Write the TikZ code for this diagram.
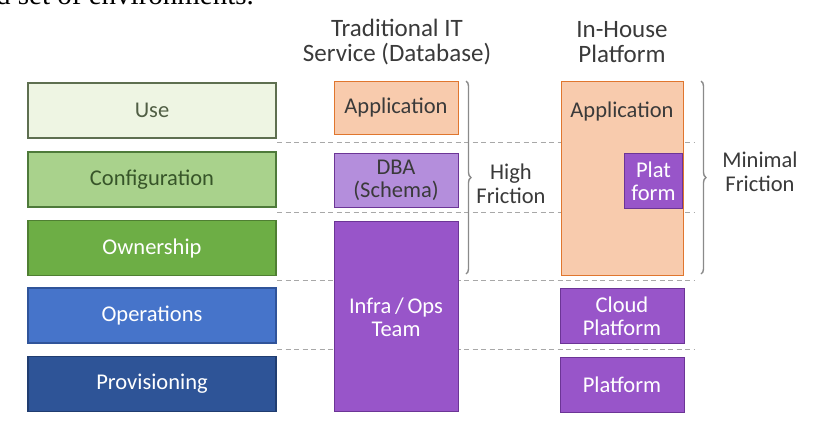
\documentclass[tikz,border=0pt]{standalone}
\usepackage{fontspec}
\setmainfont{Carlito}
\newfontfamily\capfont{Liberation Serif}
\usetikzlibrary{positioning,decorations.pathreplacing}

\definecolor{useF}{HTML}{EEF5E3}
\definecolor{useD}{HTML}{5E6F50}
\definecolor{cfgF}{HTML}{A9D28C}
\definecolor{cfgD}{HTML}{4E7A3A}
\definecolor{ownF}{HTML}{6DAE45}
\definecolor{ownD}{HTML}{4F7F32}
\definecolor{opsF}{HTML}{4674CA}
\definecolor{opsD}{HTML}{30549A}
\definecolor{prvF}{HTML}{2E5497}
\definecolor{prvD}{HTML}{203D70}
\definecolor{appF}{HTML}{F8CBAD}
\definecolor{appD}{HTML}{E0762E}
\definecolor{dbaF}{HTML}{B48EDC}
\definecolor{purF}{HTML}{9855C9}
\definecolor{purD}{HTML}{6C3596}
\definecolor{sepC}{HTML}{A8A8A8}
\definecolor{brC}{HTML}{8A8A8A}
\definecolor{txtC}{HTML}{3A3A3A}

\tikzset{
  layer/.style={draw=#1D, fill=#1F, line width=1.2pt, minimum width=248pt,
    minimum height=55pt, font=\fontsize{22.5}{23}\selectfont},
  tool/.style={draw=purD, fill=purF, line width=1pt, text=white, align=center,
    font=\fontsize{22.5}{23}\selectfont, inner sep=0pt},
  sep/.style={sepC, line width=0.9pt, dash pattern=on 5pt off 3.5pt},
  bracket/.style={brC, line width=1.4pt, decorate,
    decoration={brace, amplitude=5pt, aspect=0.5}},
  label/.style={align=center, font=\fontsize{22.5}{23.5}\selectfont, text=txtC},
  header/.style={align=center, font=\fontsize{25}{24.5}\selectfont, text=txtC}
}

\begin{document}
\begin{tikzpicture}[x=1pt,y=-1pt]
\clip (0,0) rectangle (815,429);
\fill[white] (0,0) rectangle (815,429);

\node[anchor=base west, font=\capfont\fontsize{29}{32}\selectfont, inner sep=0pt]
  (cut) at (-4,4) {d set of environments.};

% separators
\foreach \y in {142,212,280,349}
  \draw[sep] (277,\y) -- (695,\y);

% layers
\node[layer=use, text=useD!85!black] (use) at (152,110.5) {Use};
\node[layer=cfg, text=cfgD!70!black] (cfg) at (152,179.5) {Configuration};
\node[layer=own, text=white] (own) at (152,248) {Ownership};
\node[layer=ops, text=white] (ops) at (152,315.5) {Operations};
\node[layer=prv, text=white] (prv) at (152,384) {Provisioning};

% traditional
\node[header] (hdrT) at (397,42) {Traditional IT\\Service (Database)};
\node[draw=appD, fill=appF, line width=1pt, minimum width=124pt, minimum height=53pt,
  font=\fontsize{22.5}{23}\selectfont, text=txtC] (appT) at (396,107.5) {Application};
\node[tool, fill=dbaF, text=txtC, minimum width=124pt, minimum height=54pt]
  (dba) at (396,180) {DBA\\(Schema)};
\node[tool, minimum width=124pt, minimum height=190pt, anchor=north] (infra) at (396,221) {};
\node[align=center, text=white, font=\fontsize{22.5}{23}\selectfont, inner sep=0pt]
  (infraT) at (396,317) {Infra\,/\,Ops\\Team};

\draw[bracket] (466,81) -- (466,274);
\node[label] (hf) at (511,184) {High\\Friction};

% in-house
\node[header] (hdrH) at (622,42) {In-House\\Platform};
\node[draw=appD, fill=appF, line width=1pt, minimum width=122pt, minimum height=194pt,
  anchor=north] (appH) at (622,81) {};
\node[font=\fontsize{22.5}{23}\selectfont, text=txtC] (appHT) at (622,111) {Application};
\node[tool, minimum width=58pt, minimum height=55pt, anchor=north east] (plat) at (683,153)
  {Plat\\form};
\node[tool, minimum width=124pt, minimum height=55pt] (cloud) at (622,316) {Cloud\\Platform};
\node[tool, minimum width=124pt, minimum height=55pt] (pform) at (622,384.5) {Platform};

\draw[bracket] (701,81) -- (701,274);
\node[label] (mf) at (760,172) {Minimal\\Friction};
\end{tikzpicture}
\end{document}
